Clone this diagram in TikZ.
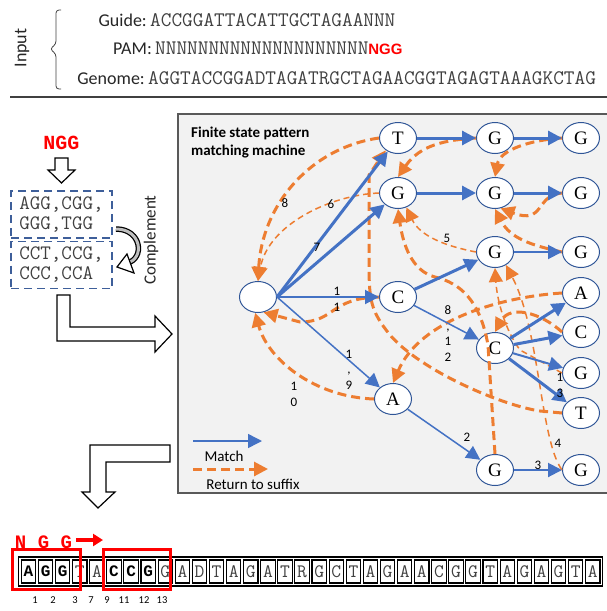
\documentclass[tikz,border=0pt]{standalone}
\usepackage{fontspec}
\setmainfont{Carlito}
\newfontfamily\seqbold{Liberation Mono}
\newfontfamily\statefont{Liberation Serif}
\newfontfamily\pamfont{Liberation Sans}
\usetikzlibrary{arrows.meta, shapes.geometric}
\definecolor{cblue}{HTML}{4472C4}
\definecolor{corange}{HTML}{ED7D31}
\definecolor{cnode}{HTML}{2F5597}
\definecolor{cbox}{HTML}{3E5F9A}
\definecolor{cpanel}{HTML}{F2F2F2}
\definecolor{cseq}{HTML}{404040}
\definecolor{cred}{HTML}{FF0000}
\tikzset{
  state/.style={ellipse, draw=cnode, fill=white, line width=1pt, minimum width=37pt, minimum height=31pt, inner sep=0pt, font=\statefont\fontsize{19}{19}\selectfont},
  match/.style={-{Triangle[length=14pt, width=14pt]}, draw=cblue, line width=#1},
  match/.default=3pt,
  ret/.style={-{Triangle[length=14pt, width=14pt]}, draw=corange, line width=3pt, dash pattern=on 9pt off 5pt},
  retthin/.style={ret, line width=1.5pt, dash pattern=on 6pt off 4pt},
  num/.style={font=\fontsize{13}{15.5}\selectfont, align=center, inner sep=0pt},
  hollow/.style={draw=black, fill=white, line width=1.2pt, line join=miter},
}
\begin{document}
\begin{tikzpicture}[x=1pt, y=-1pt,
  seq/.style={font=\ttfamily\fontsize{20.7}{20}\selectfont, text=cseq, inner sep=0pt},
  lbl/.style={font=\fontsize{18}{18}\selectfont, text=black!85, inner sep=0pt},
  pambox/.style={draw=cbox, line width=1.5pt, dash pattern=on 8pt off 5pt, minimum width=101pt, minimum height=47pt, align=left, seq, font=\ttfamily\fontsize{20.5}{20}\selectfont},
  cell/.style={draw=black, line width=1.1pt, minimum width=14.4pt, minimum height=23pt, inner sep=0pt, font=\ttfamily\fontsize{19}{19}\selectfont, text=cseq},
  hit/.style={font=\seqbold\bfseries\fontsize{16}{16}\selectfont, text=black}]
  \useasboundingbox (0,0) rectangle (607,611);

  % input header
  \node[lbl, rotate=90] (inp) at (22,48) {Input};
  \draw[cseq, line width=0.8pt, rounded corners=3pt] (61,10) -- (56,10) -- (56,44) -- (50,49) -- (56,54) -- (56,89) -- (61,89);
  \node[lbl, anchor=base east] (guide) at (147,26) {Guide:};
  \node[seq, anchor=base west] (guideseq) at (150,26) {ACCGGATTACATTGCTAGAANNN};
  \node[lbl, anchor=base east] (pam) at (152,54) {PAM:};
  \node[seq, anchor=base west] (pamseq) at (155,54) {NNNNNNNNNNNNNNNNNNNN{\pamfont\bfseries\fontsize{15}{15}\selectfont\color{cred}NGG}};
  \node[lbl, anchor=base east] (genome) at (145,84) {Genome:};
  \node[seq, anchor=base west] (genomeseq) at (148,84) {AGGTACCGGADTAGATRGCTAGAACGGTAGAGTAAAGKCTAG};
  \draw[black!75, line width=1.5pt] (10,97) -- (607,97);

  % PAM expansion on the left
  \node[font=\seqbold\bfseries\fontsize{20}{20}\selectfont, text=cred] (ngg) at (61.5,143) {NGG};
  \draw[hollow] (55,158) -- (68,158) -- (68,170) -- (75,170) -- (61.5,183) -- (48,170) -- (55,170) -- cycle;
  \node[pambox] (fwd) at (61.5,214.5) {AGG,CGG,\\GGG,TGG};
  \node[pambox] (rev) at (61.5,265) {CCT,CCG,\\CCC,CCA};
  \draw[black, line width=5.5pt] (116,229) .. controls (142,229) and (145,259) .. (127,263);
  \draw[black!25, line width=3pt] (116,229) .. controls (142,229) and (145,259) .. (127,263);
  \draw[hollow] (127,254) -- (117,267) -- (134,273) -- cycle;
  \node[lbl, rotate=90, font=\fontsize{17}{17}\selectfont] (compl) at (151,240) {Complement};
  \draw[hollow] (57,295) -- (70,295) -- (70,327) -- (155,327) -- (155,316) -- (172,334) -- (155,352) -- (155,341) -- (57,341) -- cycle;

  % pattern matching machine
  \draw[draw=black!65, fill=cpanel, line width=1.3pt] (178,114) rectangle (615,493);
  \node[anchor=north west, align=left, inner sep=0pt, font=\bfseries\fontsize{15}{18}\selectfont] (title) at (191,127) {Finite state pattern\\matching machine};

  \node[state] (s0) at (258,297) {};
  \node[state] (nT) at (398,138) {T};
  \node[state] (nG) at (398,193) {G};
  \node[state] (nC) at (398,297) {C};
  \node[state] (nA) at (393,399) {A};
  \node[state] (nTG) at (495,138) {G};
  \node[state] (nTGG) at (581,138) {G};
  \node[state] (nGG) at (495,193) {G};
  \node[state] (nGGG) at (581,193) {G};
  \node[state] (nCG) at (495,252) {G};
  \node[state] (nCGG) at (581,252) {G};
  \node[state] (nCC) at (495,348) {C};
  \node[state] (nCCA) at (581,293) {A};
  \node[state] (nCCC) at (581,332) {C};
  \node[state] (nCCG) at (581,373) {G};
  \node[state] (nCCT) at (581,413) {T};
  \node[state] (nAG) at (495,470) {G};
  \node[state] (nAGG) at (581,470) {G};

  % return to suffix
  \draw[ret] (nT.west) .. controls (310,148) and (262,205) .. (s0.north);
  \draw[retthin] (nG.west) .. controls (330,195) and (268,225) .. (s0.north);
  \draw[ret] (nC.west) .. controls (330,298) and (335,322) .. (300,322) -- (s0.-70);
  \draw[ret] (nA.west) .. controls (315,397) and (268,360) .. (s0.-100);
  \draw[ret] (nTG.west) .. controls (445,140) and (420,145) .. (nG.north);
  \draw[ret] (nTGG.west) .. controls (530,140) and (500,150) .. (nGG.north);
  \draw[ret] (nGGG.west) .. controls (535,195) and (545,225) .. (nGG.-70);
  \draw[ret] (nCGG.west) .. controls (530,245) and (510,238) .. (nGG.south);
  \draw[retthin] (nCG.west) .. controls (445,246) and (420,236) .. (nG.-60);
  \draw[ret] (nAG.north) -- (488,345) .. controls (480,300) and (460,283) .. (435,277) .. controls (412,271) and (403,245) .. (nG.south);
  \draw[ret] (nCCT.west) -- (540,411) .. controls (500,405) and (420,370) .. (390,335) .. controls (370,310) and (369,300) .. (369,260) -- (369,175) -- (nT.-135);
  \draw[ret] (nCCA.west) .. controls (500,297) and (420,320) .. (nA.north);
  \draw[ret] (nCCC.west) .. controls (540,312) and (510,305) .. (nCC.north);
  \draw[retthin] (nCCG.west) -- (520,350) .. controls (505,330) and (497,300) .. (nCG.south);
  \draw[retthin, dash pattern=on 7pt off 5pt] (nAGG.west) .. controls (540,440) and (540,330) .. (nCG.-50);

  % matches
  \draw[match] (s0.east) -- (nT);
  \draw[match] (s0.east) -- (nG);
  \draw[match=2pt] (s0.east) -- (nC);
  \draw[match=1.5pt] (s0.east) -- (nA);
  \draw[match] (nT) -- (nTG);
  \draw[match] (nTG) -- (nTGG);
  \draw[match] (nG) -- (nGG);
  \draw[match] (nGG) -- (nGGG);
  \draw[match] (nC) -- (nCG);
  \draw[match=2pt] (nCG) -- (nCGG);
  \draw[match=1.5pt] (nC) -- (nCC);
  \draw[match] (nCC) -- (nCCA);
  \draw[match] (nCC) -- (nCCC);
  \draw[match=2pt] (nCC) -- (nCCG);
  \draw[match] (nCC) -- (nCCT);
  \draw[match=1.5pt] (nA) -- (nAG);
  \draw[match=2pt] (nAG) -- (nAGG);

  % step numbers
  \node[num] (l8) at (285,203) {8};
  \node[num] (l6) at (331,204) {6};
  \node[num] (l7) at (317,247) {7};
  \node[num] (l11) at (337,299.5) {1\\1};
  \node[num] (l19) at (349,369.5) {1\\,\\9};
  \node[num] (l10) at (294,394.5) {1\\0};
  \node[num] (l5) at (447,238) {5};
  \node[num] (l812) at (448,333.5) {8\\,\\1\\2};
  \node[num] (l2) at (467,437) {2};
  \node[num] (l3) at (538,465) {3};
  \node[num] (l13) at (560,385.5) {1\\3};
  \node[num] (l4) at (558,443) {4};

  % legend
  \coordinate (mA) at (193,441);
  \coordinate (mB) at (262,441);
  \coordinate (rA) at (193,469);
  \coordinate (rB) at (268,469);
  \draw[match=1.5pt] (mA) -- (mB);
  \node[font=\fontsize{15}{15}\selectfont] (mtxt) at (224,456) {Match};
  \draw[ret] (rA) -- (rB);
  \node[font=\fontsize{15}{15}\selectfont] (rtxt) at (253,484) {Return to suffix};

  \draw[hollow] (170,445) -- (90,445) -- (90,492) -- (82,492) -- (98,508) -- (115,492) -- (106,492) -- (106,462) -- (170,462) -- cycle;

  % scanning the genome
  \node[font=\seqbold\bfseries\fontsize{19}{19}\selectfont, text=cred] (scan) at (43.5,542) {N G G};
  \coordinate (scanstart) at (76,540);
  \coordinate (scanend) at (103,540);
  \draw[cred, line width=4.5pt, -{Triangle[length=10pt, width=12pt]}] (scanstart) -- (scanend);
  \draw[black, line width=1.1pt] (18.8,557) rectangle (602.5,586);
  \foreach \ch/\st [count=\i] in {A/hit,G/hit,G/hit,T/cell,A/cell,C/hit,C/hit,G/hit,G/cell,A/cell,D/cell,T/cell,A/cell,G/cell,A/cell,T/cell,R/cell,
                                  G/cell,C/cell,T/cell,A/cell,G/cell,A/cell,A/cell,C/cell,G/cell,G/cell,T/cell,A/cell,G/cell,A/cell,G/cell,T/cell,A/cell}
    \node[cell, \st] (c\i) at ({11.4+\i*17.1}, 571.5) {\ch};
  \draw[cred, line width=3pt] (12,549) rectangle (80,589);
  \draw[cred, line width=3pt] (103,549) rectangle (170,589);
  \foreach \n/\x in {1/35, 2/53, 3/75, 7/91, 9/107, 11/124, 12/144, 13/162}
    \node[font=\fontsize{10.5}{10.5}\selectfont] (p\n) at (\x,600) {\n};
\end{tikzpicture}
\end{document}
